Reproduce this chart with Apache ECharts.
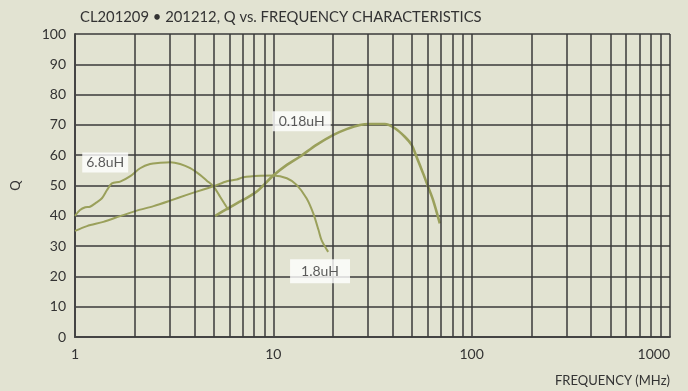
<!DOCTYPE html>
<html>
<head>
<meta charset="utf-8">
<script src="https://cdn.jsdelivr.net/npm/echarts@6/dist/echarts.min.js"></script>
<style>
html,body{margin:0;padding:0;background:#e2e3d2;}
#chart{width:688px;height:391px;}
</style>
</head>
<body>
<div id="chart"></div>
<script>
// 6.8uH
var freq68 = [1.0, 1.06, 1.127, 1.19, 1.265, 1.367, 1.45, 1.535, 1.69, 1.90, 2.13, 2.39, 2.69, 3.02, 3.39, 3.81, 4.27, 4.62, 4.99, 5.39, 5.8, 5.95];
var q68    = [40.0, 41.9, 42.8, 43.0, 44.1, 45.8, 48.5, 50.7, 51.3, 53.1, 55.7, 57.1, 57.5, 57.7, 57.1, 55.7, 53.5, 51.6, 49.7, 46.3, 43.0, 41.9];
// 1.8uH
var freq18 = [1.0, 1.149, 1.39, 1.69, 2.05, 2.49, 3.02, 3.66, 4.44, 4.99, 5.83, 6.54, 7.06, 8.57, 10, 11.7, 13.1, 14.7, 15.9, 16.9, 17.5, 18.9];
var q18    = [35.0, 36.6, 38.0, 39.9, 41.7, 43.2, 45.0, 46.9, 48.7, 49.7, 51.4, 52.0, 52.7, 53.2, 53.3, 52.4, 50.2, 45.8, 40.8, 35.3, 32.0, 28.1];
// 0.18uH
var freq018 = [5.09, 5.93, 7.06, 8.25, 10, 11.7, 13.6, 16.5, 20.1, 23.4, 27.3, 30.7, 36.5, 41.0, 46.0, 49.8, 52.7, 56.9, 60.3, 63.9, 69.1];
var q018    = [40.0, 42.5, 45.3, 48.0, 53.3, 56.8, 59.5, 63.4, 66.7, 68.6, 70.0, 70.3, 70.3, 68.9, 66.1, 63.4, 59.5, 54.0, 49.6, 45.2, 37.5];

// curve labels
var labelNames = ['6.8uH', '0.18uH', '1.8uH'];
var labelFreq  = [1.42, 13.9, 17.2];
var labelQ     = [57.6, 71.2, 21.7];

// minor vertical grid lines (log decades)
var minorFreqs = [2,3,4,5,6,7,8,9,20,30,40,50,60,70,80,90,200,300,400,500,600,700,800,900];

var titleText = 'CL201209 \u2022 201212, Q vs. FREQUENCY CHARACTERISTICS';
var xName = 'FREQUENCY (MHz)';
var yName = 'Q';

function pairs(xs, ys){ return xs.map(function(x,i){ return [x, ys[i]]; }); }

var FONT = 'Lato';
var TXT = '#333333';
var GRID = '#3a3a3a';
var LINE = '#9aa05b';

var chart = echarts.init(document.getElementById('chart'));
var lblPad = [[3,4,3,4],[3,6,3,6],[5,11,5,11]];
chart.setOption({
  backgroundColor: '#e2e3d2',
  animation: false,
  title: {
    text: titleText, left: 75, top: 5,
    textStyle: {fontFamily: FONT, fontSize: 14.8, fontWeight: 'normal', color: TXT}
  },
  grid: {left: 75, right: 18, top: 34, bottom: 54},
  xAxis: {
    type: 'log', logBase: 10, min: 1, max: 1000,
    axisLine: {show: true, lineStyle: {color: '#444444', width: 2}},
    axisTick: {show: false},
    axisLabel: {fontFamily: FONT, fontSize: 14, color: TXT, margin: 10, alignMaxLabel: 'right',
      formatter: function(v){ return String(Math.round(v)); }},
    splitLine: {show: true, lineStyle: {color: GRID, width: 1.5}},
    minorTick: {show: false}, minorSplitLine: {show: false}
  },
  yAxis: {
    type: 'value', min: 0, max: 100, interval: 10,
    name: yName, nameLocation: 'middle', nameGap: 53,
    nameTextStyle: {fontFamily: FONT, fontSize: 13, color: TXT},
    axisLine: {show: true, lineStyle: {color: '#444444', width: 2}},
    axisTick: {show: false},
    axisLabel: {fontFamily: FONT, fontSize: 14, color: TXT, margin: 9},
    splitLine: {show: true, lineStyle: {color: GRID, width: 1.5}}
  },
  graphic: [{
    type: 'text', right: 18, bottom: 4,
    style: {text: xName, fontFamily: FONT, fontSize: 13, fill: TXT}
  }],
  series: [
    {
      type: 'line', data: [], silent: true, z: 1,
      markLine: {
        silent: true, symbol: 'none', animation: false,
        label: {show: false},
        lineStyle: {color: GRID, width: 1.5, type: 'solid'},
        data: minorFreqs.map(function(f){ return {xAxis: f}; })
      }
    },
    {name: '6.8uH', type: 'line', data: pairs(freq68, q68), showSymbol: false, smooth: 0.3, z: 3,
      lineStyle: {color: LINE, width: 2}},
    {name: '1.8uH', type: 'line', data: pairs(freq18, q18), showSymbol: false, smooth: 0.3, z: 3,
      lineStyle: {color: LINE, width: 2}},
    {name: '0.18uH', type: 'line', data: pairs(freq018, q018), showSymbol: false, smooth: 0.3, z: 3,
      lineStyle: {color: LINE, width: 2.6}},
    {
      type: 'scatter', symbolSize: 0, z: 10, silent: true,
      data: labelNames.map(function(n,i){
        return {name: n, value: [labelFreq[i], labelQ[i]],
          label: {padding: lblPad[i]}};
      }),
      label: {
        show: true, position: 'inside', formatter: '{b}',
        fontFamily: FONT, fontSize: 14, color: TXT,
        backgroundColor: '#ffffff'
      }
    }
  ]
});
</script>
</body>
</html>
